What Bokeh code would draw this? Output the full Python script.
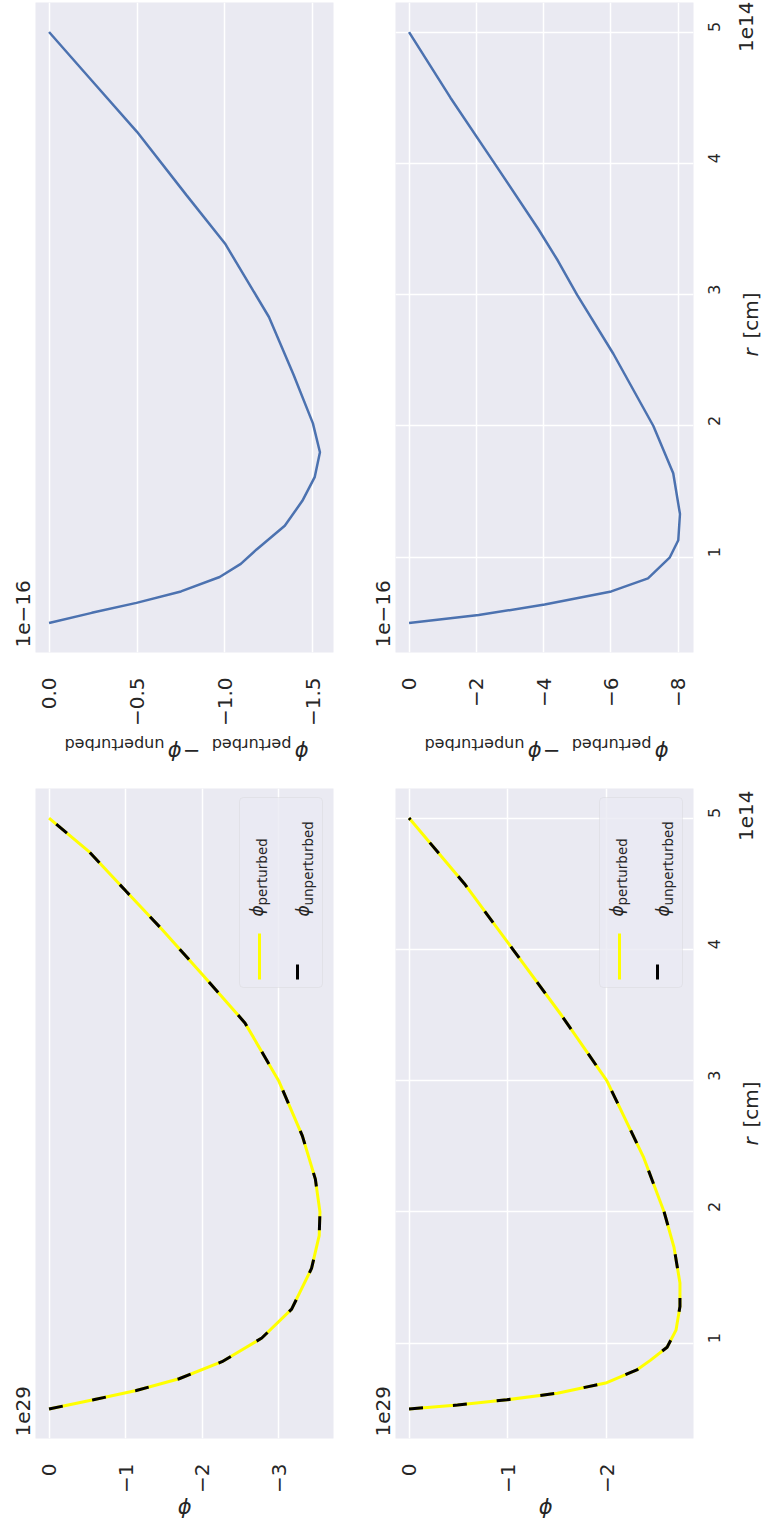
import math
from bokeh.plotting import figure
from bokeh.models import Range1d, FixedTicker, CustomJSTickFormatter, Label, BoxAnnotation
from bokeh.layouts import row, column
from bokeh.embed import file_html
from bokeh.resources import INLINE

# ---------------- data ----------------
# r in units of 1e14 cm
# phi_perturbed - phi_unperturbed, units of 1e-16 (case 1 and case 2)
r_diff_1 = [0.50, 0.577, 0.653, 0.74, 0.85, 0.95, 1.06, 1.24, 1.43, 1.61, 1.80, 2.02, 2.39, 2.83, 3.39, 3.76, 4.24, 4.65, 5.00]
diff_1 = [0.0, -0.243, -0.497, -0.75, -0.97, -1.09, -1.18, -1.34, -1.44, -1.51, -1.54, -1.50, -1.39, -1.25, -1.00, -0.78, -0.50, -0.23, 0.0]

r_diff_2 = [0.50, 0.56, 0.64, 0.74, 0.84, 1.00, 1.13, 1.33, 1.64, 2.00, 2.55, 3.00, 3.26, 3.50, 4.00, 4.50, 5.00]
diff_2 = [0.0, -2.07, -4.03, -6.01, -7.10, -7.75, -8.00, -8.05, -7.85, -7.26, -6.07, -4.99, -4.42, -3.84, -2.54, -1.23, 0.0]

# phi, units of 1e29
r_phi_1 = [0.50, 0.57, 0.64, 0.73, 0.86, 1.04, 1.26, 1.57, 1.82, 2.00, 2.25, 2.58, 3.00, 3.44, 3.81, 4.15, 4.44, 4.74, 5.00]
phi_pert_1 = [0.0, -0.58, -1.14, -1.70, -2.26, -2.78, -3.17, -3.43, -3.53, -3.54, -3.48, -3.31, -3.00, -2.56, -2.00, -1.48, -1.01, -0.53, 0.0]
phi_unpert_1 = [0.0, -0.58, -1.14, -1.70, -2.26, -2.78, -3.17, -3.43, -3.53, -3.54, -3.48, -3.31, -3.00, -2.56, -2.00, -1.48, -1.01, -0.53, 0.0]

r_phi_2 = [0.50, 0.53, 0.57, 0.62, 0.70, 0.80, 0.87, 0.97, 1.10, 1.28, 1.46, 1.73, 2.00, 2.42, 3.00, 3.50, 4.00, 4.50, 5.00]
phi_pert_2 = [0.0, -0.49, -0.99, -1.50, -2.00, -2.31, -2.44, -2.61, -2.70, -2.74, -2.74, -2.68, -2.58, -2.37, -2.00, -1.54, -1.05, -0.56, 0.0]
phi_unpert_2 = [0.0, -0.49, -0.99, -1.50, -2.00, -2.31, -2.44, -2.61, -2.70, -2.74, -2.74, -2.68, -2.58, -2.37, -2.00, -1.54, -1.05, -0.56, 0.0]

r_ticks = [1, 2, 3, 4, 5]
diff_1_ticks = [0.0, -0.5, -1.0, -1.5]
diff_2_ticks = [0, -2, -4, -6, -8]
phi_1_ticks = [0, -1, -2, -3]
phi_2_ticks = [0, -1, -2]

diff_offset = "1e\u221216"
phi_offset = "1e29"
r_offset = "1e14"
legend_names = ["perturbed", "unperturbed"]

# ---------------- style ----------------
BG = "#EAEAF2"
TXT = "#262626"
FONT = "DejaVu Sans"
BLUE = "#4C72B0"
FW, FH = 298, 650
ROT = math.pi / 2
FLIP = math.pi

r_all = r_diff_1 + r_diff_2 + r_phi_1 + r_phi_2
r_lo, r_hi = min(r_all), max(r_all)
r_pad = 0.05 * (r_hi - r_lo)


def lab(p, x, y, text, size, angle=0.0, align="left", baseline="middle", style="normal"):
    p.add_layout(Label(x=x, y=y, x_units="screen", y_units="screen", text=text,
                       angle=angle, text_font=FONT, text_font_size=f"{size}px",
                       text_color=TXT, text_align=align, text_baseline=baseline,
                       text_font_style=style))


def strip(w, h):
    s = figure(width=w, height=h, min_border=0, x_range=Range1d(0, 1), y_range=Range1d(0, 1),
               x_axis_location=None, y_axis_location=None,
               output_backend="svg", toolbar_location=None,
               background_fill_color="white", border_fill_color="white",
               outline_line_color=None)
    s.grid.visible = False
    return s


def make_panel(vals, ticks, decimals, col, bottom):
    vmin, vmax = min(vals), max(vals)
    pad = 0.05 * (vmax - vmin)
    left = (col == 0)
    p = figure(frame_width=FW, frame_height=FH,
               x_range=Range1d(vmax + pad, vmin - pad),
               y_range=Range1d(r_lo - r_pad, r_hi + r_pad),
               y_axis_location=None if left else "right",
               output_backend="svg", toolbar_location=None,
               min_border_left=0, min_border_right=37,
               min_border_top=2, min_border_bottom=bottom,
               background_fill_color=BG, border_fill_color="white",
               outline_line_color=None)
    tk = FixedTicker(ticks=ticks)
    xa = p.xaxis[0]
    xa.ticker = tk
    xa.formatter = CustomJSTickFormatter(
        args=dict(d=decimals),
        code="return (tick < -1e-12 ? '\u2212' : '') + Math.abs(tick).toFixed(d);")
    xa.major_label_orientation = ROT
    xa.major_label_text_font = FONT
    xa.major_label_text_font_size = "20px"
    xa.major_label_text_color = TXT
    xa.major_label_standoff = 19
    xa.axis_line_color = None
    xa.major_tick_line_color = None
    xa.minor_tick_line_color = None
    p.xgrid.ticker = tk
    p.xgrid.grid_line_color = "white"
    p.xgrid.grid_line_width = 1.5
    if left:
        p.ygrid.visible = False
    else:
        rt = FixedTicker(ticks=r_ticks)
        ya = p.yaxis[0]
        ya.ticker = rt
        ya.major_label_orientation = ROT
        ya.major_label_text_font = FONT
        ya.major_label_text_font_size = "16px"
        ya.major_label_text_color = TXT
        ya.major_label_standoff = 15
        ya.axis_line_color = None
        ya.major_tick_line_color = None
        ya.minor_tick_line_color = None
        p.ygrid.ticker = rt
        p.ygrid.grid_line_color = "white"
        p.ygrid.grid_line_width = 1.5
    return p


def legend(p):
    p.add_layout(BoxAnnotation(left=204, right=287, bottom=451, top=641,
                               left_units="screen", right_units="screen",
                               top_units="screen", bottom_units="screen",
                               fill_color=BG, fill_alpha=0.8,
                               line_color="#CCCCCC", line_width=1, border_radius=4))
    p.add_layout(BoxAnnotation(left=222.5, right=225.5, bottom=459, top=505,
                               left_units="screen", right_units="screen",
                               top_units="screen", bottom_units="screen",
                               fill_color="yellow", fill_alpha=1, line_color=None))
    p.add_layout(BoxAnnotation(left=260.5, right=263.5, bottom=459, top=474,
                               left_units="screen", right_units="screen",
                               top_units="screen", bottom_units="screen",
                               fill_color="black", fill_alpha=1, line_color=None))
    lab(p, 221.5, 522, "\u03d5", 17, angle=ROT, style="italic")
    lab(p, 226.5, 533, legend_names[0], 13.5, angle=ROT)
    lab(p, 267.5, 522, "\u03d5", 17, angle=ROT, style="italic")
    lab(p, 272.5, 533, legend_names[1], 13.5, angle=ROT)


def side_texts(sl, sm, sr, offset):
    # offset text of the phi axis, left of each panel (strip frames are aligned with the panels)
    lab(sl, 22.5, 1, offset, 20, angle=ROT)
    lab(sm, 12.5, 1, offset, 20, angle=ROT)
    # r axis label and its offset text
    lab(sr, 20, 292, "r", 20, angle=ROT, style="italic")
    lab(sr, 20, 310, "[cm]", 20, angle=ROT)
    lab(sr, 15, 647, r_offset, 20, angle=ROT, align="right")


# ---------------- top row: differences ----------------
p1 = make_panel(diff_1, diff_1_ticks, 1, 0, 73)
p1.line(x=diff_1, y=r_diff_1, line_color=BLUE, line_width=2.5)

p2 = make_panel(diff_2, diff_2_ticks, 0, 1, 73)
p2.line(x=diff_2, y=r_diff_2, line_color=BLUE, line_width=2.5)

sLA, sMA, sRA = strip(35, 725), strip(25, 725), strip(34, 725)
side_texts(sLA, sMA, sRA, diff_offset)

# y-axis labels of the top row (upside down)
sB = strip(764, 57)
for dx in (0, 360):
    lab(sB, 308 + dx, 35, "\u03d5", 21, angle=FLIP, style="italic")
    lab(sB, 291 + dx, 42, legend_names[0], 16, angle=FLIP)
    lab(sB, 191 + dx, 35, "\u2212", 21, angle=FLIP, align="center")
    lab(sB, 181 + dx, 35, "\u03d5", 21, angle=FLIP, style="italic")
    lab(sB, 164 + dx, 42, legend_names[1], 16, angle=FLIP)

# ---------------- bottom row: phi ----------------
p3 = make_panel(phi_pert_1 + phi_unpert_1, phi_1_ticks, 0, 0, 56)
p3.line(x=phi_pert_1, y=r_phi_1, line_color="yellow", line_width=3)
p3.line(x=phi_unpert_1, y=r_phi_1, line_color="black", line_width=3, line_dash="14 30")
legend(p3)

p4 = make_panel(phi_pert_2 + phi_unpert_2, phi_2_ticks, 0, 1, 56)
p4.line(x=phi_pert_2, y=r_phi_2, line_color="yellow", line_width=3)
p4.line(x=phi_unpert_2, y=r_phi_2, line_color="black", line_width=3, line_dash="14 30")
legend(p4)

sLC, sMC, sRC = strip(35, 708), strip(25, 708), strip(34, 708)
side_texts(sLC, sMC, sRC, phi_offset)

sD = strip(764, 34)
lab(sD, 184, 21, "\u03d5", 21, angle=FLIP, align="center", style="italic")
lab(sD, 545, 21, "\u03d5", 21, angle=FLIP, align="center", style="italic")

layout = column(
    row(sLA, p1, sMA, p2, sRA),
    sB,
    row(sLC, p3, sMC, p4, sRC),
    sD,
)

with open("out.html", "w") as f:
    f.write(file_html(layout, INLINE))
